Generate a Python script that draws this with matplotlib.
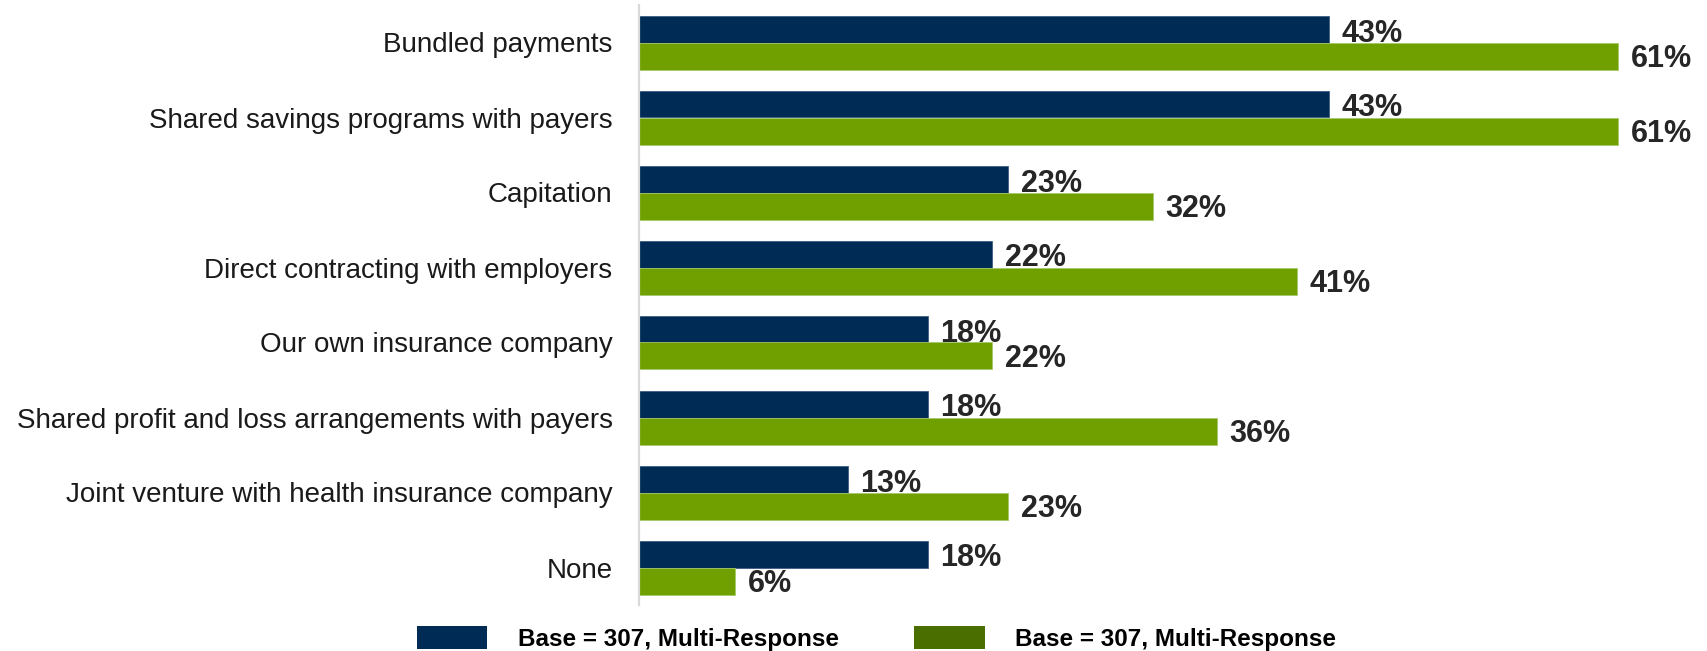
import numpy as np
import matplotlib
matplotlib.use("Agg")
import matplotlib.pyplot as plt
from matplotlib.patches import Patch

# survey answers, top to bottom
categories = [
    "Bundled payments",
    "Shared savings programs with payers",
    "Capitation",
    "Direct contracting with employers",
    "Our own insurance company",
    "Shared profit and loss arrangements with payers",
    "Joint venture with health insurance company",
    "None",
]
current_pct = [43, 43, 23, 22, 18, 18, 13, 18]
planned_pct = [61, 61, 32, 41, 22, 36, 23, 6]
legend_labels = ["Base = 307, Multi-Response", "Base = 307, Multi-Response"]

NAVY = "#002b55"
GREEN = "#70a000"
GREEN_KEY = "#4b6e00"
LABEL_COL = "#262626"

plt.rcParams["font.family"] = ["Liberation Sans", "DejaVu Sans"]

W, H = 1708, 651
fig = plt.figure(figsize=(W / 100, H / 100), dpi=100)
# axes box in pixels: spine at x=639, plot area from y=6 to y=605
ax = fig.add_axes([639 / W, (H - 605) / H, (W - 639) / W, 600 / H])

y = np.arange(len(categories))
bh = 0.36
ax.barh(y - bh / 2, current_pct, height=bh, color=NAVY, edgecolor="#3d5f85", linewidth=0.6)
ax.barh(y + bh / 2, planned_pct, height=bh, color=GREEN, edgecolor="#a6c866", linewidth=0.6)

ax.set_xlim(0, (W - 639) / 16.05)
ax.set_ylim(len(categories) - 0.5, -0.5)

# value labels sit just right of each bar
for yi, v in zip(y, current_pct):
    ax.annotate(f"{v}%", (v, yi - bh / 2 + 0.06), xytext=(9, 0), textcoords="offset points",
                va="center", ha="left", fontsize=22, fontweight="bold", color=LABEL_COL)
for yi, v in zip(y, planned_pct):
    ax.annotate(f"{v}%", (v, yi + bh / 2 + 0.04), xytext=(9, 0), textcoords="offset points",
                va="center", ha="left", fontsize=22, fontweight="bold", color=LABEL_COL)

ax.set_yticks(y)
ax.set_yticklabels(categories, fontsize=20, color="#1a1a1a")
ax.tick_params(axis="y", length=0, pad=19)
ax.set_xticks([])
for side in ["top", "right", "bottom"]:
    ax.spines[side].set_visible(False)
ax.spines["left"].set_color("#d9d9d9")
ax.spines["left"].set_linewidth(1.6)

handles = [Patch(facecolor=NAVY), Patch(facecolor=GREEN_KEY)]
fig.legend(handles, legend_labels, loc="lower left", bbox_to_anchor=(417 / W, 0.0),
           ncol=2, frameon=False, borderpad=0, borderaxespad=0,
           prop={"weight": "bold", "size": 17.5},
           handlelength=2.9, handleheight=1.05, handletextpad=1.25, columnspacing=3.1)

fig.savefig("out.png", dpi=100)
